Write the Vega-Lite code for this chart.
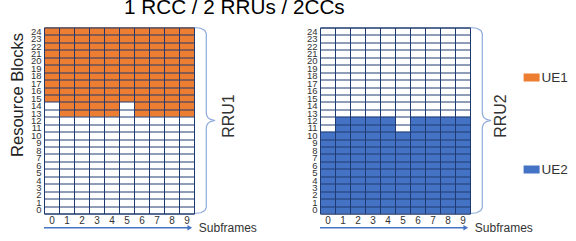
{
  "$schema": "https://vega.github.io/schema/vega-lite/v6.json",
  "background": "white",
  "padding": {"left": 8, "top": -3.5, "right": 0, "bottom": 0},
  "title": {"text": "1 RCC / 2 RRUs / 2CCs", "fontSize": 20.7, "font": "Liberation Sans", "fontWeight": "normal", "color": "#000000", "anchor": "start", "frame": "group", "dx": 80, "offset": -0.5},
  "datasets": {
    "rru1": [
      {"sf": 0, "sf1": 1, "lo": 15, "hi": 25, "ue": "UE1"},
      {"sf": 1, "sf1": 2, "lo": 13, "hi": 25, "ue": "UE1"},
      {"sf": 2, "sf1": 3, "lo": 13, "hi": 25, "ue": "UE1"},
      {"sf": 3, "sf1": 4, "lo": 13, "hi": 25, "ue": "UE1"},
      {"sf": 4, "sf1": 5, "lo": 13, "hi": 25, "ue": "UE1"},
      {"sf": 5, "sf1": 6, "lo": 15, "hi": 25, "ue": "UE1"},
      {"sf": 6, "sf1": 7, "lo": 13, "hi": 25, "ue": "UE1"},
      {"sf": 7, "sf1": 8, "lo": 13, "hi": 25, "ue": "UE1"},
      {"sf": 8, "sf1": 9, "lo": 13, "hi": 25, "ue": "UE1"},
      {"sf": 9, "sf1": 10, "lo": 13, "hi": 25, "ue": "UE1"}
    ],
    "rru2": [
      {"sf": 0, "sf1": 1, "lo": 0, "hi": 11, "ue": "UE2"},
      {"sf": 1, "sf1": 2, "lo": 0, "hi": 13, "ue": "UE2"},
      {"sf": 2, "sf1": 3, "lo": 0, "hi": 13, "ue": "UE2"},
      {"sf": 3, "sf1": 4, "lo": 0, "hi": 13, "ue": "UE2"},
      {"sf": 4, "sf1": 5, "lo": 0, "hi": 13, "ue": "UE2"},
      {"sf": 5, "sf1": 6, "lo": 0, "hi": 11, "ue": "UE2"},
      {"sf": 6, "sf1": 7, "lo": 0, "hi": 13, "ue": "UE2"},
      {"sf": 7, "sf1": 8, "lo": 0, "hi": 13, "ue": "UE2"},
      {"sf": 8, "sf1": 9, "lo": 0, "hi": 13, "ue": "UE2"},
      {"sf": 9, "sf1": 10, "lo": 0, "hi": 13, "ue": "UE2"}
    ],
    "brace": [
      {"i": 0, "x": 10.0, "y": 25.0},
      {"i": 1, "x": 10.45, "y": 24.9},
      {"i": 2, "x": 10.72, "y": 24.6},
      {"i": 3, "x": 10.82, "y": 24.2},
      {"i": 4, "x": 10.82, "y": 13.4},
      {"i": 5, "x": 10.9, "y": 12.95},
      {"i": 6, "x": 11.1, "y": 12.65},
      {"i": 7, "x": 11.4, "y": 12.5},
      {"i": 8, "x": 11.1, "y": 12.35},
      {"i": 9, "x": 10.9, "y": 12.05},
      {"i": 10, "x": 10.82, "y": 11.6},
      {"i": 11, "x": 10.82, "y": 0.8},
      {"i": 12, "x": 10.72, "y": 0.4},
      {"i": 13, "x": 10.45, "y": 0.1},
      {"i": 14, "x": 10.0, "y": 0.0}
    ],
    "arrow": [{"x0": 0, "x1": 9.6, "xt": 9.72, "y": -1.9, "xs": 10.32, "ys": -1.9, "t": "Subframes"}]
  },
  "hconcat": [
    {
      "width": 150,
      "height": 186,
      "resolve": {"axis": {"x": "independent", "y": "independent"}},
      "layer": [
        {
          "data": {"name": "rru1"},
          "mark": {"type": "rect"},
          "encoding": {
            "x": {"field": "sf", "type": "quantitative", "scale": {"domain": [0, 10], "nice": false, "zero": false}, "axis": {"orient": "bottom", "zindex": 1, "title": null, "values": [0,1,2,3,4,5,6,7,8,9,10], "labelExpr": "datum.value < 10 ? datum.label : ''"}},
            "x2": {"field": "sf1"},
            "y": {"field": "lo", "type": "quantitative", "scale": {"domain": [0, 25], "nice": false, "zero": false}, "axis": {"orient": "left", "zindex": 1, "title": "Resource Blocks", "values": [0,1,2,3,4,5,6,7,8,9,10,11,12,13,14,15,16,17,18,19,20,21,22,23,24,25], "labelExpr": "datum.value < 25 ? datum.label : ''", "titleX": -22, "titleY": 67, "titleBaseline": "alphabetic", "titleFontSize": 16.5, "titleFontWeight": "normal", "titleColor": "#222222", "titleFont": "Liberation Sans"}},
            "y2": {"field": "hi"},
            "color": {"field": "ue", "type": "nominal", "scale": {"domain": ["UE1", "UE2"], "range": ["#ED7D31", "#4472C4"]}, "legend": {"title": null, "orient": "none", "legendX": 479.6, "legendY": 42, "symbolType": "M-1,-0.5H1V0.5H-1Z", "symbolSize": 256, "symbolStrokeWidth": 0, "symbolOpacity": 1, "labelFontSize": 13.5, "labelFont": "Liberation Sans", "labelColor": "#333333", "rowPadding": 77, "labelOffset": 2}}
          }
        },
        {
          "data": {"name": "brace"},
          "mark": {"type": "line", "color": "#8faadc", "strokeWidth": 1.2},
          "encoding": {
            "x": {"field": "x", "type": "quantitative", "axis": null, "scale": {"domain": [0, 10], "nice": false, "zero": false}},
            "y": {"field": "y", "type": "quantitative", "axis": null, "scale": {"domain": [0, 25], "nice": false, "zero": false}},
            "order": {"field": "i", "type": "quantitative"}
          }
        },
        {
          "data": {"values": [{"x": 12.3, "y": 13.1, "t": "RRU1"}]},
          "mark": {"type": "text", "angle": 270, "fontSize": 16, "color": "#333333", "font": "Liberation Sans"},
          "encoding": {
            "x": {"field": "x", "type": "quantitative", "axis": null, "scale": {"domain": [0, 10], "nice": false, "zero": false}},
            "y": {"field": "y", "type": "quantitative", "axis": null, "scale": {"domain": [0, 25], "nice": false, "zero": false}},
            "text": {"field": "t"}
          }
        },
        {
          "data": {"name": "arrow"},
          "mark": {"type": "rule", "color": "#4472C4", "strokeWidth": 1.5},
          "encoding": {
            "x": {"field": "x0", "type": "quantitative", "axis": null, "scale": {"domain": [0, 10], "nice": false, "zero": false}},
            "x2": {"field": "x1"},
            "y": {"field": "y", "type": "quantitative", "axis": null, "scale": {"domain": [0, 25], "nice": false, "zero": false}}
          }
        },
        {
          "data": {"name": "arrow"},
          "mark": {"type": "point", "shape": "triangle-right", "filled": true, "size": 30, "color": "#4472C4", "opacity": 1},
          "encoding": {
            "x": {"field": "xt", "type": "quantitative", "axis": null, "scale": {"domain": [0, 10], "nice": false, "zero": false}},
            "y": {"field": "y", "type": "quantitative", "axis": null, "scale": {"domain": [0, 25], "nice": false, "zero": false}}
          }
        },
        {
          "data": {"name": "arrow"},
          "mark": {"type": "text", "align": "left", "baseline": "middle", "fontSize": 12, "color": "#333333", "font": "Liberation Sans"},
          "encoding": {
            "x": {"field": "xs", "type": "quantitative", "axis": null, "scale": {"domain": [0, 10], "nice": false, "zero": false}},
            "y": {"field": "ys", "type": "quantitative", "axis": null, "scale": {"domain": [0, 25], "nice": false, "zero": false}},
            "text": {"field": "t"}
          }
        }
      ]
    },
    {
      "width": 150,
      "height": 186,
      "resolve": {"axis": {"x": "independent", "y": "independent"}},
      "layer": [
        {
          "data": {"name": "rru2"},
          "mark": {"type": "rect"},
          "encoding": {
            "x": {"field": "sf", "type": "quantitative", "scale": {"domain": [0, 10], "nice": false, "zero": false}, "axis": {"orient": "bottom", "zindex": 1, "title": null, "values": [0,1,2,3,4,5,6,7,8,9,10], "labelExpr": "datum.value < 10 ? datum.label : ''"}},
            "x2": {"field": "sf1"},
            "y": {"field": "lo", "type": "quantitative", "scale": {"domain": [0, 25], "nice": false, "zero": false}, "axis": {"orient": "left", "zindex": 1, "title": null, "values": [0,1,2,3,4,5,6,7,8,9,10,11,12,13,14,15,16,17,18,19,20,21,22,23,24,25], "labelExpr": "datum.value < 25 ? datum.label : ''"}},
            "y2": {"field": "hi"},
            "color": {"field": "ue", "type": "nominal", "scale": {"domain": ["UE1", "UE2"], "range": ["#ED7D31", "#4472C4"]}}
          }
        },
        {
          "data": {"name": "brace"},
          "mark": {"type": "line", "color": "#8faadc", "strokeWidth": 1.2},
          "encoding": {
            "x": {"field": "x", "type": "quantitative", "axis": null, "scale": {"domain": [0, 10], "nice": false, "zero": false}},
            "y": {"field": "y", "type": "quantitative", "axis": null, "scale": {"domain": [0, 25], "nice": false, "zero": false}},
            "order": {"field": "i", "type": "quantitative"}
          }
        },
        {
          "data": {"values": [{"x": 12.05, "y": 13.1, "t": "RRU2"}]},
          "mark": {"type": "text", "angle": 270, "fontSize": 16, "color": "#333333", "font": "Liberation Sans"},
          "encoding": {
            "x": {"field": "x", "type": "quantitative", "axis": null, "scale": {"domain": [0, 10], "nice": false, "zero": false}},
            "y": {"field": "y", "type": "quantitative", "axis": null, "scale": {"domain": [0, 25], "nice": false, "zero": false}},
            "text": {"field": "t"}
          }
        },
        {
          "data": {"name": "arrow"},
          "mark": {"type": "rule", "color": "#4472C4", "strokeWidth": 1.5},
          "encoding": {
            "x": {"field": "x0", "type": "quantitative", "axis": null, "scale": {"domain": [0, 10], "nice": false, "zero": false}},
            "x2": {"field": "x1"},
            "y": {"field": "y", "type": "quantitative", "axis": null, "scale": {"domain": [0, 25], "nice": false, "zero": false}}
          }
        },
        {
          "data": {"name": "arrow"},
          "mark": {"type": "point", "shape": "triangle-right", "filled": true, "size": 30, "color": "#4472C4", "opacity": 1},
          "encoding": {
            "x": {"field": "xt", "type": "quantitative", "axis": null, "scale": {"domain": [0, 10], "nice": false, "zero": false}},
            "y": {"field": "y", "type": "quantitative", "axis": null, "scale": {"domain": [0, 25], "nice": false, "zero": false}}
          }
        },
        {
          "data": {"name": "arrow"},
          "mark": {"type": "text", "align": "left", "baseline": "middle", "fontSize": 12, "color": "#333333", "font": "Liberation Sans"},
          "encoding": {
            "x": {"field": "xs", "type": "quantitative", "axis": null, "scale": {"domain": [0, 10], "nice": false, "zero": false}},
            "y": {"field": "ys", "type": "quantitative", "axis": null, "scale": {"domain": [0, 25], "nice": false, "zero": false}},
            "text": {"field": "t"}
          }
        }
      ]
    }
  ],
  "spacing": 126,
  "bounds": "flush",
  "resolve": {"scale": {"color": "shared"}},
  "config": {
    "font": "Liberation Sans",
    "view": {"stroke": "#1f3a70", "strokeWidth": 1},
    "axisX": {"grid": true, "gridColor": "#1f3a70", "gridOpacity": 1, "gridWidth": 1, "ticks": false, "domain": false, "labelOffset": 7.5, "labelFontSize": 10, "labelColor": "#333333", "labelPadding": 1.5, "labelFlush": false, "labelOverlap": false, "labelBound": false, "labelAngle": 0},
    "axisY": {"grid": true, "gridColor": "#1f3a70", "gridOpacity": 1, "gridWidth": 1, "ticks": false, "domain": false, "labelOffset": -3.72, "labelFontSize": 9.5, "labelColor": "#333333", "labelPadding": 3, "labelFlush": false, "labelOverlap": false, "labelBound": false}
  }
}
